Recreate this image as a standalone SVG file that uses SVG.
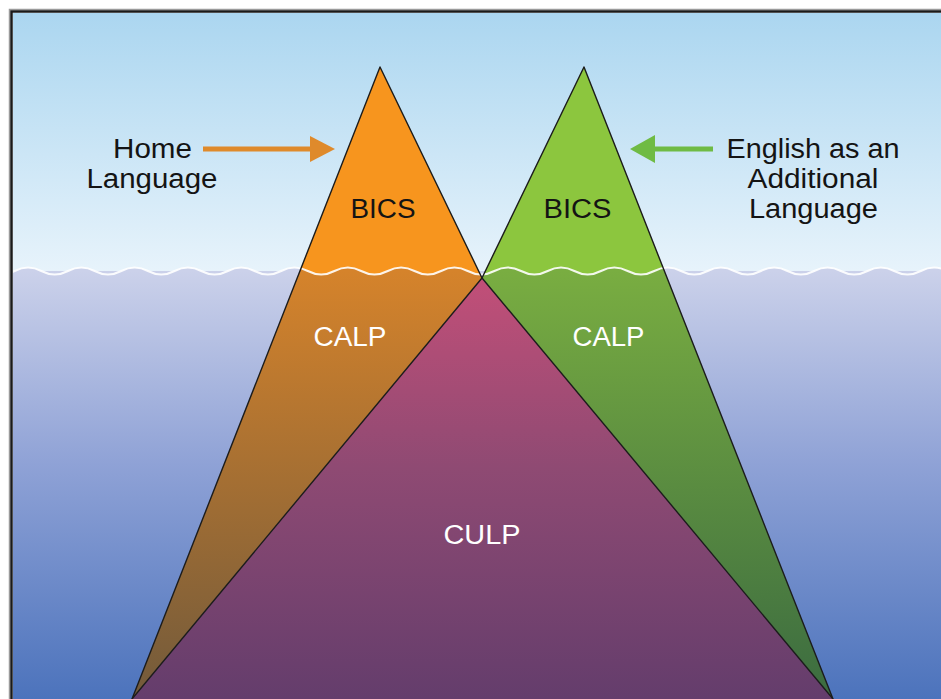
<svg xmlns="http://www.w3.org/2000/svg" width="941" height="699" viewBox="0 0 941 699">
  <style>
    .lbl { font-family: "Liberation Sans", Arial, Helvetica, sans-serif; font-size: 27px; text-anchor: middle; }
    .dark { fill: #141414; }
    .light { fill: #ffffff; }
    .edge { fill: none; stroke: #1c1c1c; stroke-width: 1.4; stroke-linejoin: round; }
  </style>
  <defs>
    <linearGradient id="sky" x1="0" y1="13" x2="0" y2="271" gradientUnits="userSpaceOnUse">
      <stop offset="0" stop-color="#abd6f0"/>
      <stop offset="1" stop-color="#e7f3fb"/>
    </linearGradient>
    <linearGradient id="water" x1="0" y1="271" x2="0" y2="699" gradientUnits="userSpaceOnUse">
      <stop offset="0" stop-color="#cbd1ea"/>
      <stop offset="0.45" stop-color="#8fa2d6"/>
      <stop offset="1" stop-color="#4c73bc"/>
    </linearGradient>
    <linearGradient id="orangeDeep" x1="0" y1="271" x2="0" y2="699" gradientUnits="userSpaceOnUse">
      <stop offset="0" stop-color="#d5832b"/>
      <stop offset="1" stop-color="#725a3b"/>
    </linearGradient>
    <linearGradient id="greenDeep" x1="0" y1="271" x2="0" y2="699" gradientUnits="userSpaceOnUse">
      <stop offset="0" stop-color="#79ad41"/>
      <stop offset="1" stop-color="#3b6b40"/>
    </linearGradient>
    <linearGradient id="purple" x1="0" y1="278" x2="0" y2="699" gradientUnits="userSpaceOnUse">
      <stop offset="0" stop-color="#c24f78"/>
      <stop offset="0.45" stop-color="#8f4a73"/>
      <stop offset="1" stop-color="#643d6c"/>
    </linearGradient>
    <!-- region above the waterline -->
    <clipPath id="aboveWater">
      <path d="M-40,0 H990 V271 L974.1,271 Q960.78,278 947.45,271 T920.8,271 T894.15,271 T867.5,271 T840.85,271 T814.2,271 T787.55,271 T760.9,271 T734.25,271 T707.6,271 T680.95,271 T654.3,271 T627.65,271 T601,271 T574.35,271 T547.7,271 T521.05,271 T494.4,271 T467.75,271 T441.1,271 T414.45,271 T387.8,271 T361.15,271 T334.5,271 T307.85,271 T281.2,271 T254.55,271 T227.9,271 T201.25,271 T174.6,271 T147.95,271 T121.3,271 T94.65,271 T68,271 T41.35,271 T14.7,271 T-11.95,271 T-38.6,271 Z"/>
    </clipPath>
    <marker id="headOrange" viewBox="0 0 25 26" refX="0" refY="13" markerWidth="25" markerHeight="26" markerUnits="userSpaceOnUse" orient="auto">
      <path d="M0,0 L25,13 L0,26 Z" fill="#df8a2b"/>
    </marker>
    <marker id="headGreen" viewBox="0 0 25 28" refX="0" refY="14" markerWidth="25" markerHeight="28" markerUnits="userSpaceOnUse" orient="auto">
      <path d="M0,0 L25,14 L0,28 Z" fill="#6fbb44"/>
    </marker>
  </defs>

  <!-- page and frame -->
  <rect x="0" y="0" width="941" height="699" fill="#ffffff"/>
  <rect x="13" y="13" width="940" height="700" fill="url(#water)"/>
  <rect x="13" y="13" width="940" height="258" fill="url(#sky)" clip-path="url(#aboveWater)"/>

  <!-- CULP base -->
  <g id="culp">
    <path d="M482,278 L132,699 L833,699 Z" fill="url(#purple)"/>
    <text class="lbl light" x="482" y="544" textLength="77" lengthAdjust="spacingAndGlyphs">CULP</text>
  </g>

  <!-- home language peak -->
  <g id="home-peak">
    <path d="M380,67 L482,278 L132,699 Z" fill="url(#orangeDeep)"/>
    <path d="M380,67 L482,278 L132,699 Z" fill="#f7951e" clip-path="url(#aboveWater)"/>
    <text class="lbl dark" x="383" y="218" textLength="65" lengthAdjust="spacingAndGlyphs">BICS</text>
    <text class="lbl light" x="350" y="346" textLength="73" lengthAdjust="spacingAndGlyphs">CALP</text>
  </g>

  <!-- additional language peak -->
  <g id="eal-peak">
    <path d="M584,67 L833,699 L482,278 Z" fill="url(#greenDeep)"/>
    <path d="M584,67 L833,699 L482,278 Z" fill="#8cc63e" clip-path="url(#aboveWater)"/>
    <text class="lbl dark" x="577.5" y="218" textLength="68" lengthAdjust="spacingAndGlyphs">BICS</text>
    <text class="lbl light" x="608.5" y="346" textLength="72" lengthAdjust="spacingAndGlyphs">CALP</text>
  </g>

  <!-- waterline -->
  <path id="waterline" d="M-38.6,271 Q-25.27,264 -11.95,271 T14.7,271 T41.35,271 T68,271 T94.65,271 T121.3,271 T147.95,271 T174.6,271 T201.25,271 T227.9,271 T254.55,271 T281.2,271 T307.85,271 T334.5,271 T361.15,271 T387.8,271 T414.45,271 T441.1,271 T467.75,271 T494.4,271 T521.05,271 T547.7,271 T574.35,271 T601,271 T627.65,271 T654.3,271 T680.95,271 T707.6,271 T734.25,271 T760.9,271 T787.55,271 T814.2,271 T840.85,271 T867.5,271 T894.15,271 T920.8,271 T947.45,271 T974.1,271" fill="none" stroke="#ffffff" stroke-width="2" opacity="0.9"/>

  <!-- outlines -->
  <g id="outlines">
    <path class="edge" d="M132,699 L380,67 L482,278"/>
    <path class="edge" d="M833,699 L584,67 L482,278"/>
    <path class="edge" d="M132,699 L482,278 L833,699"/>
  </g>

  <!-- pointers -->
  <g id="connectors">
    <line x1="203" y1="149" x2="310" y2="149" stroke="#df8a2b" stroke-width="5" marker-end="url(#headOrange)"/>
    <line x1="713" y1="149" x2="655" y2="149" stroke="#6fbb44" stroke-width="5" marker-end="url(#headGreen)"/>
  </g>

  <g id="label-home">
    <text class="lbl dark" x="152.5" y="158" textLength="79" lengthAdjust="spacingAndGlyphs">Home</text>
    <text class="lbl dark" x="152" y="188" textLength="131" lengthAdjust="spacingAndGlyphs">Language</text>
  </g>
  <g id="label-eal">
    <text class="lbl dark" x="813" y="158" textLength="173" lengthAdjust="spacingAndGlyphs">English as an</text>
    <text class="lbl dark" x="813" y="188" textLength="131" lengthAdjust="spacingAndGlyphs">Additional</text>
    <text class="lbl dark" x="813.5" y="218" textLength="129" lengthAdjust="spacingAndGlyphs">Language</text>
  </g>

  <!-- frame border -->
  <rect x="9.5" y="9.5" width="960" height="720" fill="none" stroke="#9a9a9a" stroke-width="1.5"/>
  <rect x="11.5" y="11.5" width="960" height="720" fill="none" stroke="#1a1a1a" stroke-width="2.5"/>
</svg>
